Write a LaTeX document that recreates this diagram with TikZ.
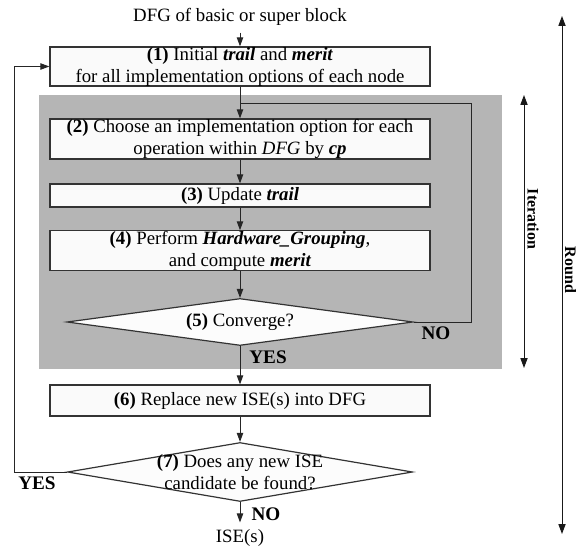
\documentclass[tikz,border=0pt]{standalone}
\usepackage{fontspec}
\setmainfont{Liberation Serif}
\usetikzlibrary{arrows.meta,shapes.geometric}
\begin{document}
\begin{tikzpicture}[x=0.5bp,y=-0.5bp,
  every node/.style={font=\fontsize{9.4bp}{11bp}\selectfont},
  box/.style={draw=black!80, fill=black!2, line width=0.6bp, minimum width=190bp, inner sep=0pt, align=center},
  dia/.style={draw=black!80, fill=black!1, shape=diamond, line width=0.6bp, inner sep=0pt},
  tip/.style={Triangle[length=4.5bp,width=3.2bp]},
  arr/.style={-{Triangle[length=4.5bp,width=3.2bp]}, line width=0.5bp, draw=black!85},
  darr/.style={{Triangle[length=5bp,width=3.6bp]}-{Triangle[length=5bp,width=3.6bp]}, line width=0.5bp, draw=black!90},
  ln/.style={line width=0.5bp, draw=black!85},
  lbl/.style={font=\fontsize{9.6bp}{11bp}\selectfont\bfseries},
  side/.style={font=\fontsize{8bp}{10bp}\selectfont\bfseries, rotate=-90}
]
\useasboundingbox (0,0) rectangle (576,550);
% shaded iteration region
\fill[black!29] (39,95) rectangle (502,369);
% nodes
\node (title) at (240,17) {DFG of basic or super block};
\node[box, minimum height=19.5bp] (b1) at (240,66.5) {\textbf{(1)} Initial \textbf{\textit{trail}} and \textbf{\textit{merit}}\\for all implementation options of each node};
\node[box, minimum height=20bp] (b2) at (240,139) {\textbf{(2)} Choose an implementation option for each\\operation within \textit{DFG} by \textbf{\textit{cp}}};
\node[box, minimum height=11.5bp] (b3) at (240,195.5) {\textbf{(3)} Update \textbf{\textit{trail}}};
\node[box, minimum height=19.5bp] (b4) at (240,250.5) {\textbf{(4)} Perform \textbf{\textit{Hardware\_Grouping}},\\and compute \textbf{\textit{merit}}};
\node[dia, minimum width=173bp, minimum height=23.5bp] (d5) at (240,322) {};
\node (t5) at (240,322) {\textbf{(5)} Converge?};
\node[box, minimum height=15.5bp] (b6) at (240,400.5) {\textbf{(6)} Replace new ISE(s) into DFG};
\node[dia, minimum width=172.5bp, minimum height=29.5bp] (d7) at (240,472) {};
\node[align=center] (t7) at (240,472) {\textbf{(7)} Does any new ISE\\candidate be found?};
\node (ise) at (240,538) {ISE(s)};
% branch labels
\node[lbl] (no5) at (436,333) {NO};
\node[lbl] (yes5) at (268,357) {YES};
\node[lbl] (yes7) at (37,483) {YES};
\node[lbl] (no7) at (266,514) {NO};
% coordinates for loops
\coordinate (lc) at (471,104);
\coordinate (lj) at (240,104);
\coordinate (ll) at (14,472);
% connectors
\draw[arr] (title) -- (b1);
\draw[arr] (b1) -- (b2);
\draw[ln] (d5.east) -| (lc) -- (lj);
\draw[arr] (b2) -- (b3);
\draw[arr] (b3) -- (b4);
\draw[arr] (b4) -- (d5.north);
\draw[arr] (d5.south) -- (b6);
\draw[arr] (b6) -- (d7.north);
\draw[arr] (d7.south) -- (ise);
\draw[arr] (d7.west) -- (ll) |- (b1.west);
% side arrows
\coordinate (it) at (524,95);
\coordinate (ib) at (524,368);
\coordinate (rt) at (562,16);
\coordinate (rb) at (562,534);
\draw[darr] (it) -- (ib);
\draw[darr] (rt) -- (rb);
\node[side] (itl) at (533,219) {Iteration};
\node[side] (rdl) at (570.5,270) {Round};
\end{tikzpicture}
\end{document}
